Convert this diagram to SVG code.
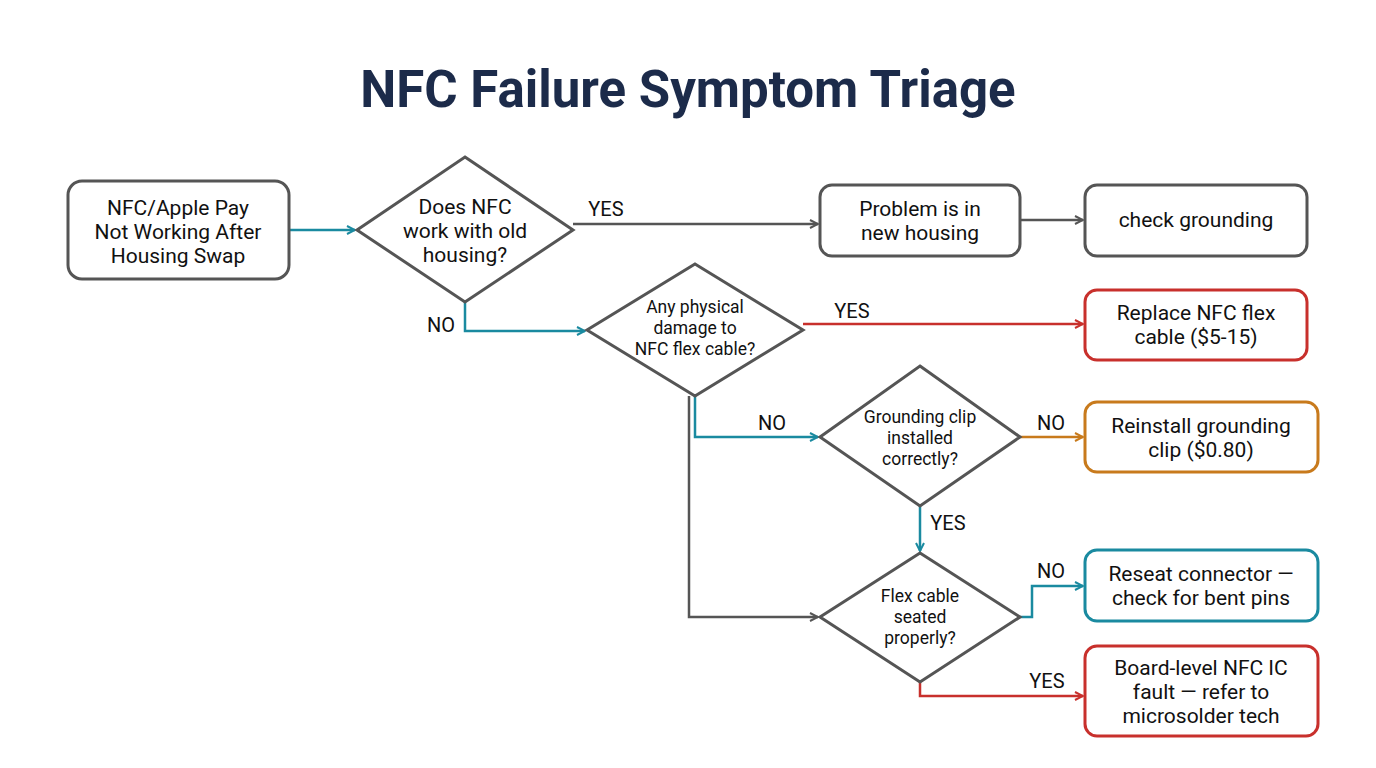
<svg xmlns="http://www.w3.org/2000/svg" width="1376" height="768" viewBox="0 0 1376 768">
<style>
.n{fill:#fff;stroke:#555;stroke-width:3}
.t{font-family:Roboto,"Liberation Sans",sans-serif;font-size:21px;fill:#111;text-anchor:middle}
.s{font-size:17.5px}
.l{font-family:Roboto,"Liberation Sans",sans-serif;font-size:20px;fill:#111;text-anchor:middle}
.c{fill:none;stroke-width:2.5}
.g{stroke:#555}.b{stroke:#1a8aa0}.r{stroke:#c8302c}.o{stroke:#c87a1c}
</style>
<defs>
<marker id="ag" markerWidth="10" markerHeight="10" refX="9" refY="5" orient="auto" markerUnits="userSpaceOnUse"><path d="M1,1 L9,5 L1,9" fill="none" stroke="#555" stroke-width="2"/></marker>
<marker id="ab" markerWidth="10" markerHeight="10" refX="9" refY="5" orient="auto" markerUnits="userSpaceOnUse"><path d="M1,1 L9,5 L1,9" fill="none" stroke="#1a8aa0" stroke-width="2"/></marker>
<marker id="ar" markerWidth="10" markerHeight="10" refX="9" refY="5" orient="auto" markerUnits="userSpaceOnUse"><path d="M1,1 L9,5 L1,9" fill="none" stroke="#c8302c" stroke-width="2"/></marker>
<marker id="ao" markerWidth="10" markerHeight="10" refX="9" refY="5" orient="auto" markerUnits="userSpaceOnUse"><path d="M1,1 L9,5 L1,9" fill="none" stroke="#c87a1c" stroke-width="2"/></marker>
</defs>
<rect width="1376" height="768" fill="#fff"/>
<text x="688" y="107" font-family="Roboto,'Liberation Sans',sans-serif" font-size="51" font-weight="bold" fill="#1c2b4a" text-anchor="middle">NFC Failure Symptom Triage</text>
<g id="connectors">
<path class="c b" d="M289,230 H355" marker-end="url(#ab)"/>
<path class="c g" d="M573,224 H818" marker-end="url(#ag)"/>
<path class="c g" d="M1020,220 H1083" marker-end="url(#ag)"/>
<path class="c b" d="M465,302 V331 H585" marker-end="url(#ab)"/>
<path class="c r" d="M803,324 H1083" marker-end="url(#ar)"/>
<path class="c b" d="M695,396 V437 H818" marker-end="url(#ab)"/>
<path class="c g" d="M689,396 V617 H818" marker-end="url(#ag)"/>
<path class="c o" d="M1020,437 H1083" marker-end="url(#ao)"/>
<path class="c b" d="M920,506 V551" marker-end="url(#ab)"/>
<path class="c b" d="M1020,617 H1032 V586 H1083" marker-end="url(#ab)"/>
<path class="c r" d="M920,682 V696 H1083" marker-end="url(#ar)"/>
<text class="l" x="606" y="216">YES</text>
<text class="l" x="441" y="332">NO</text>
<text class="l" x="852" y="318">YES</text>
<text class="l" x="772" y="430">NO</text>
<text class="l" x="1051" y="430">NO</text>
<text class="l" x="948" y="530">YES</text>
<text class="l" x="1051" y="578">NO</text>
<text class="l" x="1047" y="688">YES</text>
</g>
<g id="start"><rect class="n" x="68" y="181" width="221" height="98" rx="14"/>
<text class="t" x="178" y="215">NFC/Apple Pay</text><text class="t" x="178" y="239">Not Working After</text><text class="t" x="178" y="263">Housing Swap</text></g>
<g id="d1"><polygon class="n" points="465,157 573,230 465,302 357,230"/>
<text class="t" x="465" y="214">Does NFC</text><text class="t" x="465" y="238">work with old</text><text class="t" x="465" y="262">housing?</text></g>
<g id="newhousing"><rect class="n" x="820" y="185" width="200" height="71" rx="12"/>
<text class="t" x="920" y="216">Problem is in</text><text class="t" x="920" y="240">new housing</text></g>
<g id="grounding"><rect class="n" x="1085" y="185" width="222" height="71" rx="12"/>
<text class="t" x="1196" y="227">check grounding</text></g>
<g id="d2"><polygon class="n" points="695,264 803,330 695,396 587,330"/>
<text class="t s" x="695" y="313">Any physical</text><text class="t s" x="695" y="334">damage to</text><text class="t s" x="695" y="355">NFC flex cable?</text></g>
<g id="replace"><rect class="n" x="1085" y="290" width="222" height="70" rx="12" style="stroke:#c8302c"/>
<text class="t" x="1196" y="320">Replace NFC flex</text><text class="t" x="1196" y="344">cable ($5-15)</text></g>
<g id="d3"><polygon class="n" points="920,366 1020,437 920,506 820,437"/>
<text class="t s" x="920" y="423">Grounding clip</text><text class="t s" x="920" y="444">installed</text><text class="t s" x="920" y="465">correctly?</text></g>
<g id="reinstall"><rect class="n" x="1085" y="402" width="233" height="70" rx="12" style="stroke:#c87a1c"/>
<text class="t" x="1201" y="433">Reinstall grounding</text><text class="t" x="1201" y="457">clip ($0.80)</text></g>
<g id="d4"><polygon class="n" points="920,553 1020,617 920,682 820,617"/>
<text class="t s" x="920" y="602">Flex cable</text><text class="t s" x="920" y="623">seated</text><text class="t s" x="920" y="644">properly?</text></g>
<g id="reseat"><rect class="n" x="1085" y="550" width="233" height="71" rx="12" style="stroke:#1a8aa0"/>
<text class="t" x="1201" y="581">Reseat connector —</text><text class="t" x="1201" y="605">check for bent pins</text></g>
<g id="board"><rect class="n" x="1085" y="646" width="233" height="90" rx="12" style="stroke:#c8302c"/>
<text class="t" x="1201" y="675">Board-level NFC IC</text><text class="t" x="1201" y="699">fault — refer to</text><text class="t" x="1201" y="723">microsolder tech</text></g>
</svg>
